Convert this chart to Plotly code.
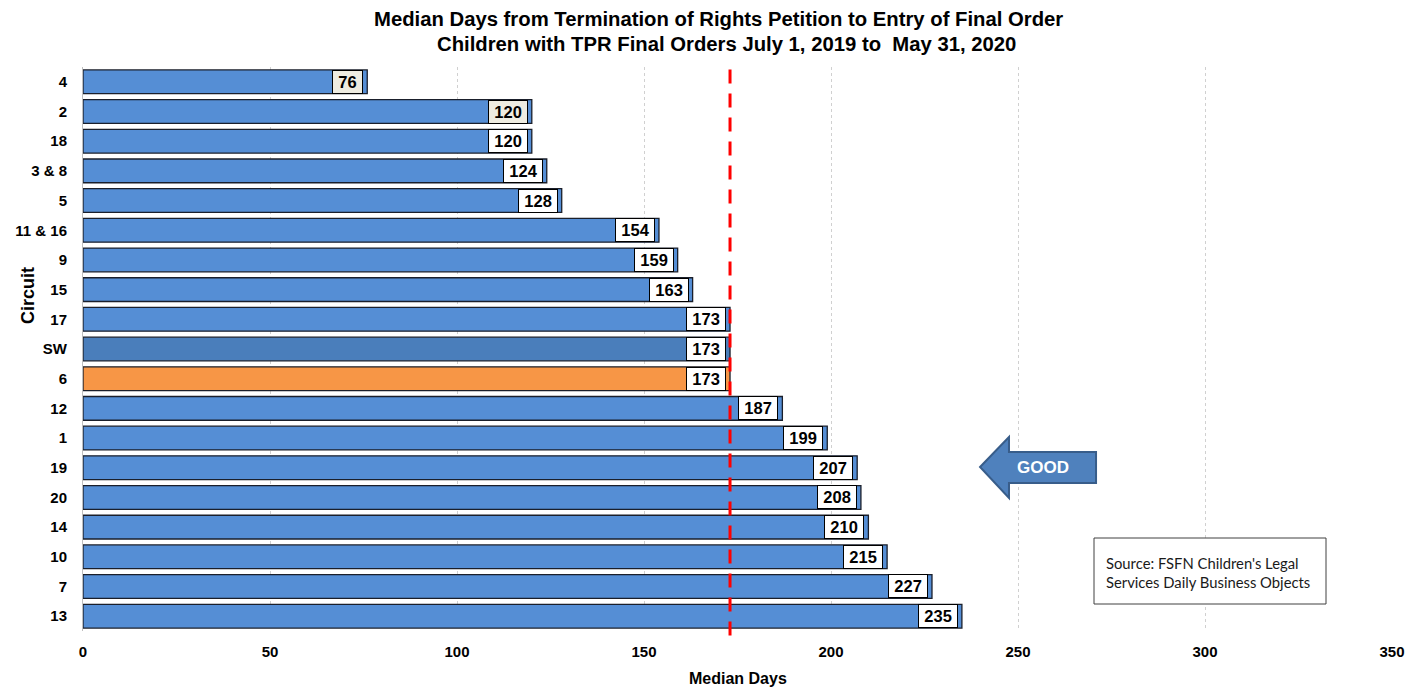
import plotly.graph_objects as go

circuits = ["4", "2", "18", "3 & 8", "5", "11 & 16", "9", "15", "17", "SW", "6",
            "12", "1", "19", "20", "14", "10", "7", "13"]
median_days = [76, 120, 120, 124, 128, 154, 159, 163, 173, 173, 173,
               187, 199, 207, 208, 210, 215, 227, 235]
statewide_target = 173

BLUE = "#558ED5"
colors = []
for c in circuits:
    if c == "SW":
        colors.append("#4A7EBB")
    elif c == "6":
        colors.append("#F79646")
    else:
        colors.append(BLUE)

W, H = 1424, 688
L, R, T, B = 83, 32, 67, 57
PW, PH = W - L - R, H - T - B
FONT = "Liberation Sans, Arial, sans-serif"


def px(x):
    return (x - L) / PW


def py(y):
    return (H - B - y) / PH


fig = go.Figure()
fig.add_trace(go.Bar(
    y=circuits, x=median_days, orientation="h",
    marker=dict(color=colors, line=dict(color="#1A1F2B", width=1.3)),
    width=0.8, hoverinfo="x+y", showlegend=False,
))

for i, (c, v) in enumerate(zip(circuits, median_days)):
    bg = "#EEECE1" if c in ("4", "2") else "white"
    fig.add_annotation(
        x=v, y=i, xref="x", yref="y", text="\u2009" + str(v) + "\u2009", showarrow=False,
        xanchor="right", yanchor="middle", xshift=-4,
        font=dict(family=FONT, size=16.5, color="black", weight="bold"),
        bgcolor=bg, bordercolor="black", borderwidth=1, borderpad=2,
    )

# statewide reference line
fig.add_shape(type="line", xref="x", yref="paper", x0=statewide_target, x1=statewide_target,
              y0=-0.008, y1=1.0, line=dict(color="#FF0000", width=3, dash="14px,10px"))

# title lines
fig.add_annotation(xref="paper", yref="paper", x=px(718), y=py(19), showarrow=False,
                   text="Median Days from Termination of Rights Petition to Entry of Final Order",
                   xanchor="center", yanchor="middle",
                   font=dict(family=FONT, size=20.3, color="black", weight="bold"))
fig.add_annotation(xref="paper", yref="paper", x=px(726), y=py(44), showarrow=False,
                   text="Children with TPR Final Orders July 1, 2019 to  May 31, 2020",
                   xanchor="center", yanchor="middle",
                   font=dict(family=FONT, size=20.3, color="black", weight="bold"))

# axis titles
fig.add_annotation(xref="paper", yref="paper", x=px(28), y=py(295), showarrow=False,
                   text="Circuit", textangle=-90, xanchor="center", yanchor="middle",
                   font=dict(family=FONT, size=18, color="black", weight="bold"))
fig.add_annotation(xref="paper", yref="paper", x=0.5, y=py(678), showarrow=False,
                   text="Median Days", xanchor="center", yanchor="middle",
                   font=dict(family=FONT, size=16, color="black", weight="bold"))

# GOOD arrow
pts = [(980, 467), (1009, 437), (1009, 452), (1096, 452), (1096, 483), (1009, 483), (1009, 498)]
path = "M " + " L ".join(f"{px(a):.4f},{py(b):.4f}" for a, b in pts) + " Z"
fig.add_shape(type="path", xref="paper", yref="paper", path=path,
              fillcolor="#4F81BD", line=dict(color="#385D8A", width=2))
fig.add_annotation(xref="paper", yref="paper", x=px(1043), y=py(467), text="GOOD",
                   showarrow=False, xanchor="center", yanchor="middle",
                   font=dict(family=FONT, size=17, color="white", weight="bold"))

# source box
fig.add_shape(type="rect", xref="paper", yref="paper", x0=px(1094), x1=px(1326),
              y0=py(604), y1=py(538), line=dict(color="#404040", width=1), fillcolor="white")
fig.add_annotation(xref="paper", yref="paper", x=px(1104), y=py(572),
                   text="Source: FSFN Children's Legal<br>Services Daily Business Objects",
                   showarrow=False, xanchor="left", yanchor="middle", align="left",
                   font=dict(family="Lato, Open Sans, sans-serif", size=14.8, color="#1a1a1a"))

fig.update_layout(
    width=W, height=H,
    margin=dict(l=L, r=R, t=T, b=B, autoexpand=False),
    paper_bgcolor="white", plot_bgcolor="white",
    bargap=0.2,
)
fig.update_xaxes(
    range=[0, 350], dtick=50, showgrid=True, gridcolor="#D0D0D0", griddash="dot",
    zeroline=False, showline=False, ticks="", automargin=False, ticklabelstandoff=10,
    tickfont=dict(family=FONT, size=15, color="black", weight="bold"),
)
fig.update_yaxes(
    type="category", autorange="reversed", showgrid=False, showline=True, linecolor="#BFBFBF",
    ticks="", ticklabelstandoff=12, automargin=False,
    tickfont=dict(family=FONT, size=15, color="black", weight="bold"),
)

fig.write_html("out.html", config={"displayModeBar": False},
               post_script="document.body.style.margin='0';")
